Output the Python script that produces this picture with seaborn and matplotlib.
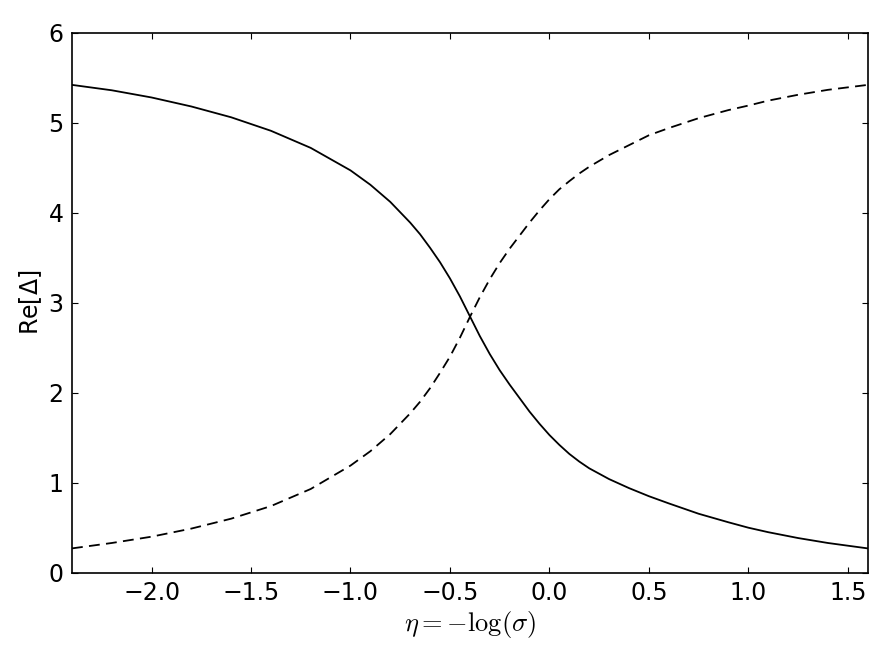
import matplotlib
matplotlib.use("Agg")
import matplotlib.pyplot as plt
import seaborn as sns
import pandas as pd

# values
eta_solid = [-2.4, -2.2, -2.0, -1.8, -1.6, -1.4, -1.2, -1.0, -0.9, -0.8, -0.7, -0.65,
             -0.6, -0.55, -0.5, -0.45, -0.4, -0.35, -0.3, -0.25, -0.2, -0.1, -0.05,
             0.0, 0.05, 0.1, 0.15, 0.2, 0.3, 0.4, 0.5, 0.6, 0.75, 0.9, 1.0, 1.1,
             1.25, 1.4, 1.6]
re_solid = [5.42, 5.36, 5.28, 5.18, 5.06, 4.91, 4.72, 4.47, 4.31, 4.12, 3.89, 3.76,
            3.61, 3.45, 3.27, 3.07, 2.85, 2.63, 2.43, 2.25, 2.09, 1.79, 1.655,
            1.53, 1.42, 1.32, 1.235, 1.16, 1.04, 0.94, 0.85, 0.77, 0.655, 0.56, 0.50,
            0.45, 0.385, 0.33, 0.27]

eta_dashed = [-2.4, -2.2, -2.0, -1.8, -1.6, -1.4, -1.2, -1.0, -0.9, -0.8, -0.7, -0.65,
              -0.6, -0.55, -0.5, -0.45, -0.4, -0.35, -0.3, -0.25, -0.2, -0.1, -0.05,
              0.0, 0.05, 0.1, 0.15, 0.2, 0.3, 0.4, 0.5, 0.6, 0.75, 0.9, 1.0, 1.1,
              1.25, 1.4, 1.6]
re_dashed = [0.27, 0.33, 0.40, 0.49, 0.60, 0.74, 0.93, 1.19, 1.35, 1.54, 1.77, 1.90,
             2.05, 2.22, 2.40, 2.61, 2.84, 3.06, 3.26, 3.44, 3.60, 3.89, 4.025,
             4.15, 4.26, 4.35, 4.435, 4.51, 4.64, 4.75, 4.86, 4.94, 5.05, 5.14, 5.19,
             5.245, 5.31, 5.365, 5.42]

x_ticks = [-2.0, -1.5, -1.0, -0.5, 0.0, 0.5, 1.0, 1.5]
y_ticks = [0, 1, 2, 3, 4, 5, 6]

sns.set_style("ticks", {
    "xtick.direction": "in",
    "ytick.direction": "in",
    "axes.edgecolor": "black",
    "axes.labelcolor": "black",
    "text.color": "black",
    "xtick.color": "black",
    "ytick.color": "black",
})
plt.rcParams["font.family"] = ["DejaVu Sans"]
plt.rcParams["axes.unicode_minus"] = True

df_s = pd.DataFrame({"eta": eta_solid, "re": re_solid})
df_d = pd.DataFrame({"eta": eta_dashed, "re": re_dashed})

fig = plt.figure(figsize=(8.89, 6.67), dpi=100)
ax = fig.add_axes([0.081, 0.1414, 0.895, 0.8096])

sns.lineplot(data=df_s, x="eta", y="re", color="black", linewidth=1.3, ax=ax)
sns.lineplot(data=df_d, x="eta", y="re", color="black", linewidth=1.3,
             linestyle=(0, (6, 3.5)), ax=ax)

ax.set_xlim(-2.4, 1.6)
ax.set_ylim(0, 6)
ax.set_xticks(x_ticks)
ax.set_yticks(y_ticks)
ax.tick_params(which="both", top=True, right=True, length=4.5, width=0.8,
               labelsize=17, pad=6)
for side in ax.spines.values():
    side.set_linewidth(1.2)

ax.set_xlabel(r"$\eta=-\log(\sigma)$", math_fontfamily="cm", fontsize=19, labelpad=3)
ax.set_ylabel(r"Re$[\Delta]$", fontsize=17, labelpad=3)

fig.savefig("out.png", dpi=100)
